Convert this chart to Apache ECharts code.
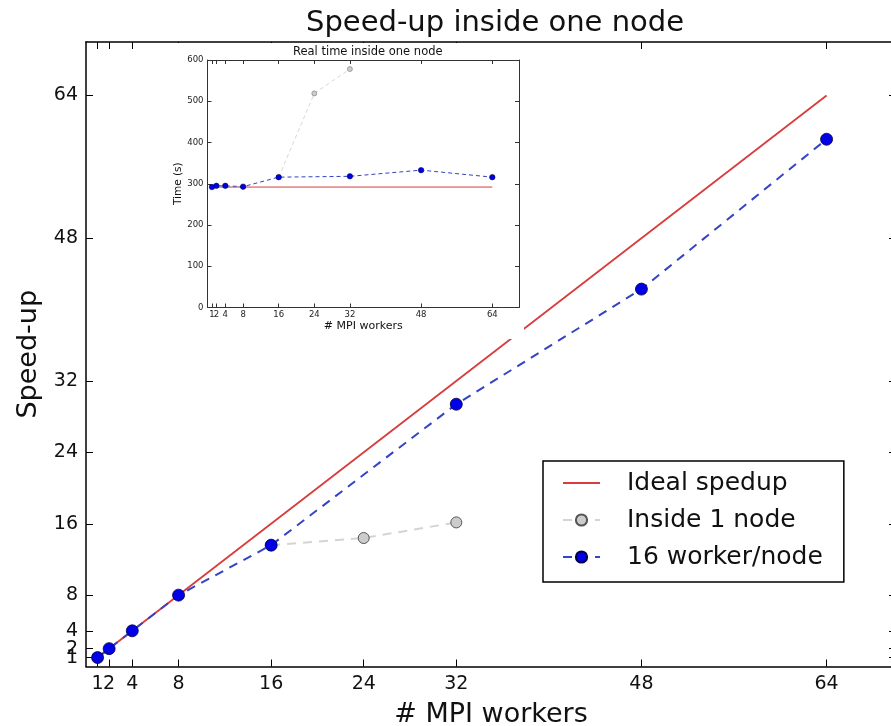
<!DOCTYPE html>
<html><head><meta charset="utf-8">
<script src="https://cdn.jsdelivr.net/npm/echarts@6/dist/echarts.min.js"></script>
<style>html,body{margin:0;padding:0;background:#fff}#c{width:891px;height:726px}</style>
</head><body><div id="c"></div>
<script>
// ---- data ----
const tickValues = [1, 2, 4, 8, 16, 24, 32, 48, 64];
const idealWorkers = [1, 64];
const idealSpeedup = [1, 64];
const insideWorkers = [16, 24, 32];
const insideSpeedup = [13.6, 14.4, 16.15];
const nodeWorkers = [1, 2, 4, 8, 16, 32, 48, 64];
const nodeSpeedup = [1, 2, 4, 8, 13.6, 29.4, 42.3, 59.1];
const idealTime = [292, 292];
const insideTime = [316, 519, 578];
const nodeTime = [292, 295, 295, 293, 316, 318, 333, 316];
const legendNames = ['Ideal spedup', 'Inside 1 node', '16 worker/node'];

const F = 'DejaVu Sans';
const pairs = (xs, ys) => xs.map((x, i) => [x, ys[i]]);
// tick labels are split over two axes (alternating) so touching labels such as "1" and "2" are all kept
const labelsA = tickValues.filter((v, i) => i % 2 === 0);
const labelsB = tickValues.filter((v, i) => i % 2 === 1);

function mainAxis(pos, showLabel, extra, labels) {
  return Object.assign({
    type: 'value', gridIndex: 0, position: pos, min: 0, max: 70,
    splitLine: { show: false },
    axisLine: { show: true, onZero: false, lineStyle: { color: '#000', width: 1.5 } },
    axisTick: { show: true, inside: true, length: 7, customValues: tickValues, lineStyle: { color: '#000', width: 1 } },
    axisLabel: { show: showLabel, customValues: labels || labelsA, hideOverlap: false, showMinLabel: true, showMaxLabel: true,
      fontSize: 19, fontFamily: F, color: '#111', margin: 8 },
    z: 0
  }, extra || {});
}
function labelOnlyAxis(base) {
  base.axisLine = { show: false, onZero: false };
  base.axisTick = { show: false };
  base.name = '';
  return base;
}
function insetAxis(pos, showLabel, isY, extra, labels) {
  return Object.assign({
    type: 'value', gridIndex: 1, position: pos,
    min: 0, max: isY ? 600 : 70,
    splitLine: { show: false },
    axisLine: { show: true, onZero: false, lineStyle: { color: '#333', width: 1 } },
    axisTick: isY ? { show: true, inside: true, length: 4, lineStyle: { color: '#333' } }
                  : { show: true, inside: true, length: 4, customValues: tickValues, lineStyle: { color: '#333' } },
    axisLabel: isY ? { show: showLabel, hideOverlap: false, showMinLabel: true, showMaxLabel: true, fontSize: 8.5, fontFamily: F, color: '#222', margin: 4 }
                   : { show: showLabel, hideOverlap: false, showMinLabel: true, showMaxLabel: true, customValues: labels || labelsA, fontSize: 8.5, fontFamily: F, color: '#222', margin: 3 },
    z: 20
  }, isY ? { interval: 100 } : {}, extra || {});
}

const chart = echarts.init(document.getElementById('c'), null, { renderer: 'canvas' });
chart.setOption({
  animation: false,
  backgroundColor: '#fff',
  title: [
    { text: 'Speed-up inside one node', left: 301, top: 4,
      textStyle: { fontFamily: F, fontSize: 29, fontWeight: 'normal', color: '#111' } },
    { text: 'Real time inside one node', left: 288, top: 41, z: 25,
      textStyle: { fontFamily: F, fontSize: 11.5, fontWeight: 'normal', color: '#111' } }
  ],
  grid: [
    { left: 86, top: 42, width: 810, height: 624.5, outerBoundsMode: 'none', containLabel: false },
    { left: 207.5, top: 60, width: 311.5, height: 247.5, z: 20, outerBoundsMode: 'none', containLabel: false }
  ],
  graphic: [
    { type: 'rect', z: 10, shape: { x: 168, y: 43, width: 356, height: 296 }, style: { fill: '#fff' } }
  ],
  legend: {
    orient: 'vertical', left: 543, top: 461,
    data: [
      { name: legendNames[0], itemStyle: { opacity: 0 } },
      legendNames[1], legendNames[2]
    ],
    itemWidth: 37, itemHeight: 14, itemGap: 9,
    padding: [8, 21, 11, 19],
    borderColor: '#000', borderWidth: 1.5, borderRadius: 0, backgroundColor: '#fff',
    textStyle: { fontFamily: F, fontSize: 25, lineHeight: 28, color: '#111', padding: [0, 0, 0, 22] },
    selectedMode: false, z: 6
  },
  xAxis: [
    mainAxis('bottom', true, { name: '# MPI workers', nameLocation: 'middle', nameGap: 35,
      nameTextStyle: { fontFamily: F, fontSize: 27, color: '#111' } }),
    mainAxis('top', false),
    insetAxis('bottom', true, false, { name: '# MPI workers', nameLocation: 'middle', nameGap: 12,
      nameTextStyle: { fontFamily: F, fontSize: 11, color: '#111' } }),
    insetAxis('top', false, false),
    labelOnlyAxis(mainAxis('bottom', true, null, labelsB)),
    labelOnlyAxis(insetAxis('bottom', true, false, null, labelsB))
  ],
  yAxis: [
    mainAxis('left', true, { gridIndex: 0, name: 'Speed-up', nameLocation: 'middle', nameGap: 44, nameRotate: 90,
      nameTextStyle: { fontFamily: F, fontSize: 27, color: '#111' } }),
    mainAxis('right', false, { gridIndex: 0 }),
    insetAxis('left', true, true, { name: 'Time (s)', nameLocation: 'middle', nameGap: 24, nameRotate: 90,
      nameTextStyle: { fontFamily: F, fontSize: 10.5, color: '#111' } }),
    insetAxis('right', false, true),
    labelOnlyAxis(mainAxis('left', true, null, labelsB))
  ],
  series: [
    { name: 'Ideal spedup', type: 'line', xAxisIndex: 0, yAxisIndex: 0, data: pairs(idealWorkers, idealSpeedup),
      showSymbol: false, symbol: 'none', lineStyle: { color: '#d83c3c', width: 1.8 }, itemStyle: { color: '#d83c3c' }, z: 2 },
    { name: 'Inside 1 node', type: 'line', xAxisIndex: 0, yAxisIndex: 0, data: pairs(insideWorkers, insideSpeedup),
      symbol: 'circle', symbolSize: 11,
      lineStyle: { color: '#d4d4d4', width: 2, type: [9, 7] },
      itemStyle: { color: '#cccccc', borderColor: '#555', borderWidth: 1 }, z: 2 },
    { name: '16 worker/node', type: 'line', xAxisIndex: 0, yAxisIndex: 0, data: pairs(nodeWorkers, nodeSpeedup),
      symbol: 'circle', symbolSize: 12,
      lineStyle: { color: '#3344c4', width: 2, type: [9, 7] },
      itemStyle: { color: '#0000e6', borderColor: '#000044', borderWidth: 0.8 }, z: 3 },

    { name: 'ideal time', type: 'line', xAxisIndex: 2, yAxisIndex: 2, data: pairs(idealWorkers, idealTime),
      symbol: 'none', lineStyle: { color: '#d83c3c', width: 1 }, z: 21 },
    { name: 'inside time', type: 'line', xAxisIndex: 2, yAxisIndex: 2, data: pairs(insideWorkers, insideTime),
      symbol: 'circle', symbolSize: 5,
      lineStyle: { color: '#d8d8d8', width: 1, type: [4, 3] },
      itemStyle: { color: '#cccccc', borderColor: '#777', borderWidth: 0.6 }, z: 21 },
    { name: 'node time', type: 'line', xAxisIndex: 2, yAxisIndex: 2, data: pairs(nodeWorkers, nodeTime),
      symbol: 'circle', symbolSize: 5.5,
      lineStyle: { color: '#3344c4', width: 1, type: [4, 3] },
      itemStyle: { color: '#0000e6', borderColor: '#000044', borderWidth: 0.5 }, z: 22 }
  ]
});
</script>
</body></html>
